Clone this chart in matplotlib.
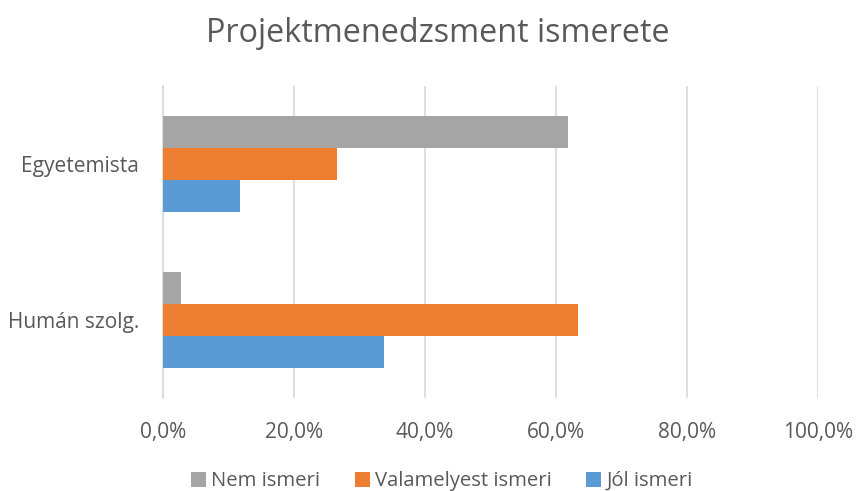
import numpy as np
import matplotlib.pyplot as plt
from matplotlib.ticker import FuncFormatter

categories = ['Humán szolg.', 'Egyetemista']
series_names = ['Nem ismeri', 'Valamelyest ismeri', 'Jól ismeri']
nem_ismeri = [2.7, 61.8]
valamelyest = [63.3, 26.5]
jol_ismeri = [33.8, 11.8]
colors = ['#A5A5A5', '#ED7D31', '#5B9BD5']

plt.rcParams['font.family'] = ['Open Sans', 'DejaVu Sans']

fig = plt.figure(figsize=(8.56, 4.91), dpi=100)
ax = fig.add_axes([0.1904, 0.1894, 0.7652, 0.6354])

y = np.arange(len(categories))
h = 0.207
for vals, off, c, name in zip([nem_ismeri, valamelyest, jol_ismeri], [h, 0, -h], colors, series_names):
    ax.barh(y + off, vals, height=h, color=c, label=name, zorder=3)

ax.set_xlim(0, 100)
ax.set_ylim(-0.5, 1.5)
ax.set_xticks(np.arange(0, 101, 20))
ax.xaxis.set_major_formatter(FuncFormatter(lambda v, p: f'{v:.1f}%'.replace('.', ',')))
ax.set_yticks(y)
ax.set_yticklabels(categories)
ax.grid(axis='x', color='#D9D9D9', linewidth=1.2, zorder=0)
for s in ['top', 'right', 'bottom']:
    ax.spines[s].set_visible(False)
ax.spines['left'].set_color('#D9D9D9')
ax.spines['left'].set_linewidth(1.2)
ax.tick_params(axis='both', length=0, colors='#595959')
ax.tick_params(axis='x', labelsize=15, pad=17)
ax.tick_params(axis='y', labelsize=15, pad=17.3)

fig.text(0.512, 1 - 42 / 491, 'Projektmenedzsment ismerete', ha='center', va='baseline',
         fontsize=23.3, color='#595959')

leg = fig.legend(loc='center', bbox_to_anchor=(0.516, 0.02), ncol=3, frameon=False,
                 fontsize=14.6, handlelength=0.75, handleheight=0.75, handletextpad=0.25,
                 columnspacing=1.7, borderpad=0)
for t in leg.get_texts():
    t.set_color('#595959')

fig.savefig('out.png', dpi=100)
